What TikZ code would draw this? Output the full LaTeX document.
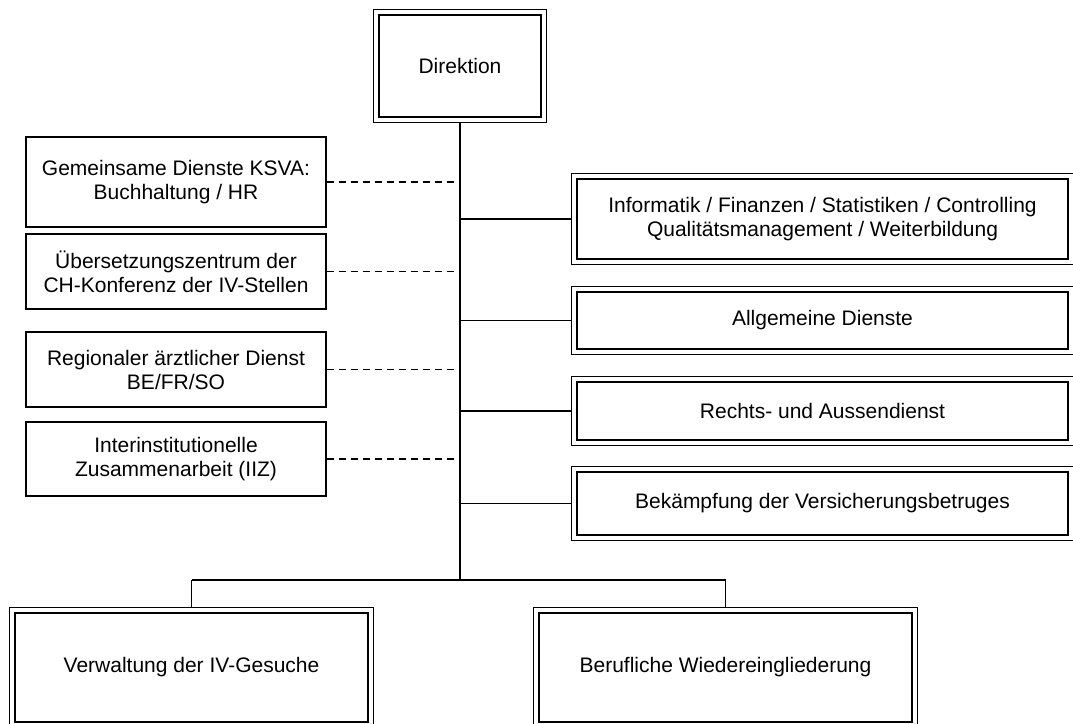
\documentclass[tikz,border=0pt]{standalone}
\usepackage{fontspec}
\setmainfont{Liberation Sans}
\begin{document}
\begin{tikzpicture}[x=1pt,y=-1pt,
  txt/.style={font=\fontsize{21}{24}\selectfont, align=center, inner sep=0pt},
  inbox/.style={txt, draw, line width=1.7pt},
  sbox/.style={txt, draw, line width=1.3pt},
  outerline/.style={line width=1.1pt},
  conn/.style={line width=1.3pt},
  dconn/.style={line width=1.5pt, dash pattern=on 7pt off 5pt},
  bus/.style={line width=2.7pt}]
\useasboundingbox (0,0) rectangle (1073,723);
\newcommand\outerframe[1]{\draw[outerline] ([shift={(-5,-5)}]#1.north west) rectangle ([shift={(5,5)}]#1.south east);}
% Direktion
\node[inbox, minimum width=162pt, minimum height=102pt] (dir) at (460,66) {Direktion};
\outerframe{dir}
% right boxes
\node[inbox, minimum width=491pt, minimum height=80pt] (r1) at (822.5,219) {Informatik / Finanzen / Statistiken / Controlling\\Qualitätsmanagement / Weiterbildung};
\node[inbox, minimum width=491pt, minimum height=57pt] (r2) at (822.5,320.5) {Allgemeine Dienste};
\node[inbox, minimum width=491pt, minimum height=58pt] (r3) at (822.5,411) {Rechts- und Aussendienst};
\node[inbox, minimum width=491pt, minimum height=63pt] (r4) at (822.5,503.5) {Bekämpfung der Versicherungsbetruges};
\foreach \n in {r1,r2,r3,r4} {\outerframe{\n}}
% left boxes
\node[sbox, minimum width=300pt, minimum height=90pt] (l1) at (176,182) {Gemeinsame Dienste KSVA:\\Buchhaltung / HR};
\node[sbox, minimum width=300pt, minimum height=75pt] (l2) at (176,271.5) {Übersetzungszentrum der\\CH-Konferenz der IV-Stellen};
\node[sbox, minimum width=300pt, minimum height=75pt] (l3) at (176,369.5) {Regionaler ärztlicher Dienst\\BE/FR/SO};
\node[sbox, minimum width=300pt, minimum height=74pt] (l4) at (176,459) {Interinstitutionelle\\Zusammenarbeit (IIZ)};
% bottom boxes
\node[inbox, minimum width=353pt, minimum height=109pt] (b1) at (191.5,667.5) {Verwaltung der IV-Gesuche};
\node[inbox, minimum width=373pt, minimum height=109pt] (b2) at (725.5,667.5) {Berufliche Wiedereingliederung};
\outerframe{b1}
\outerframe{b2}
% bus
\coordinate (busend) at (460,580);
\draw[bus] ([yshift=-5pt]dir.south) -- (busend);
\foreach \n in {r1,r2,r3,r4} {\draw[conn] (dir.south |- \n.west) -- ([xshift=-5pt]\n.west);}
\foreach \n in {l1,l2,l3,l4} {\draw[dconn] (l1.east |- \n.east) -- (dir.south |- \n.east);}
\draw[conn] (b1.north |- busend) -- (b2.north |- busend);
\draw[conn] (b1.north |- busend) -- ([yshift=5pt]b1.north);
\draw[conn] (b2.north |- busend) -- ([yshift=5pt]b2.north);
\end{tikzpicture}
\end{document}
